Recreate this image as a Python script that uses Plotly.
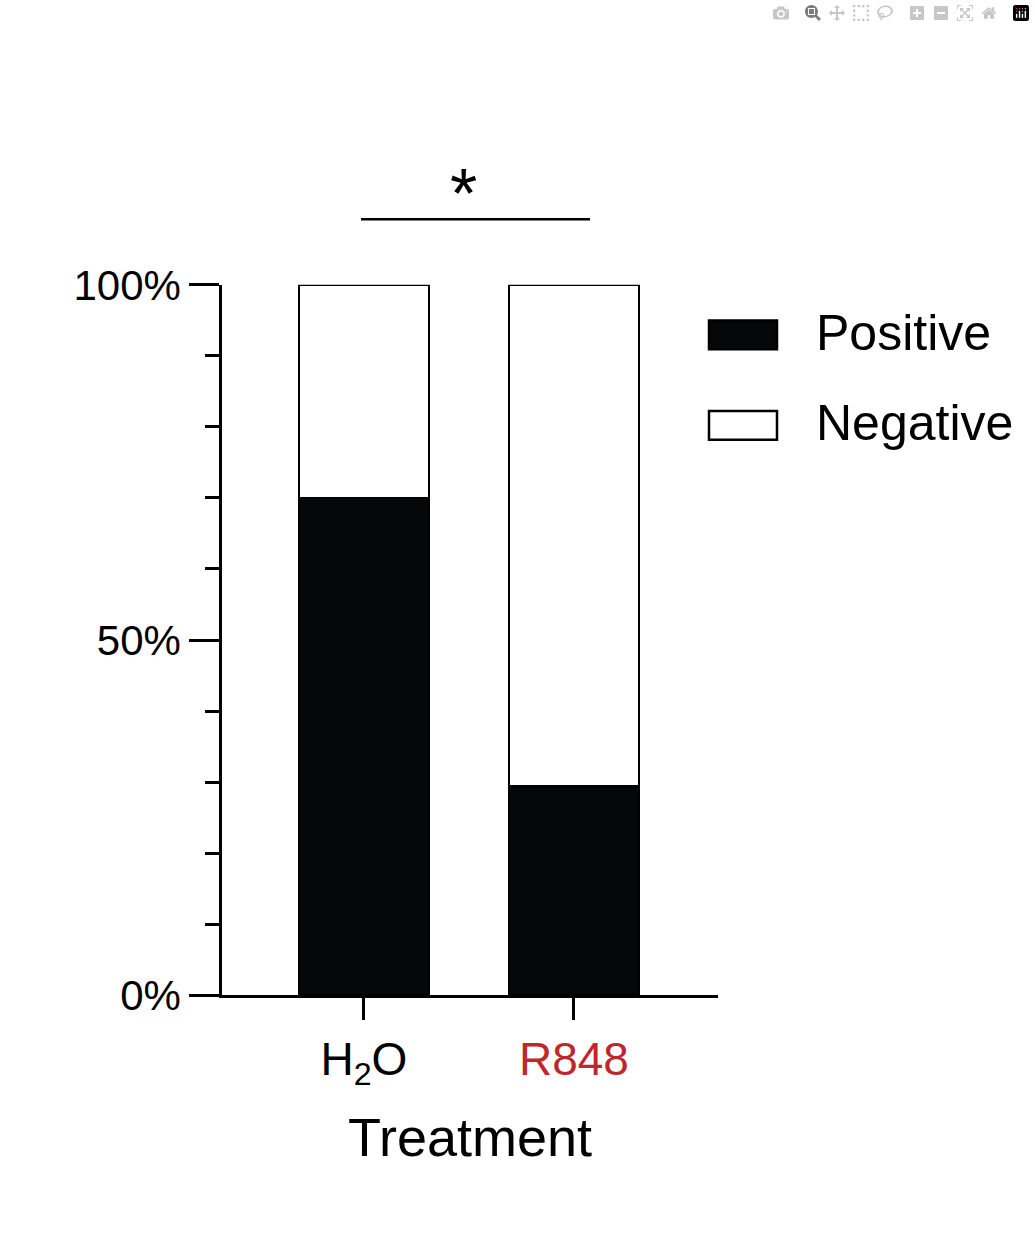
import plotly.graph_objects as go

categories = ["H2O", "R848"]
tick_labels = ["H<sub>2</sub>O", "<span style='color:#c0272d'>R848</span>"]
positive = [70.0, 29.4]
negative = [100 - p for p in positive]

W, H = 1035, 1257
def px(x): return x / W
def py(y): return 1 - y / H

fig = go.Figure()
fig.add_bar(x=[0, 1], y=positive, name="Positive", marker=dict(color="#060708", line=dict(color="black", width=2.5)), width=0.62)
fig.add_bar(x=[0, 1], y=negative, name="Negative", marker=dict(color="white", line=dict(color="black", width=2.5)), width=0.62)

font = "Liberation Sans, Arial, sans-serif"
fig.update_layout(
    width=W, height=H, barmode="stack", showlegend=False,
    margin=dict(l=0, r=0, t=0, b=0),
    plot_bgcolor="white", paper_bgcolor="white",
    font=dict(family=font, color="black", size=40),
    xaxis=dict(domain=[px(222), px(718)], range=[-0.676, 1.686], tickvals=[0, 1], ticktext=tick_labels,
               ticks="outside", ticklen=22, tickwidth=2.5, tickcolor="black", showline=True, linecolor="black",
               linewidth=2.5, tickfont=dict(size=46), showgrid=False, zeroline=False,
               title=dict(text="Treatment", font=dict(size=54), standoff=28)),
    yaxis=dict(domain=[py(1010), py(272)], range=[0, 100], tickvals=[0, 50, 100], ticktext=["0%", "50%", "100%"],
               ticks="outside", ticklen=30, tickwidth=2.5, tickcolor="black", showline=True, linecolor="black",
               linewidth=2.5, showgrid=False, zeroline=False, tickfont=dict(size=42),
               minor=dict(dtick=10, ticks="outside", ticklen=14, tickwidth=2.5, tickcolor="black", showgrid=False)),
)
fig.add_shape(type="line", xref="paper", yref="paper", x0=px(361), x1=px(590), y0=py(204), y1=py(204),
              line=dict(color="black", width=2.5))
fig.add_annotation(xref="paper", yref="paper", x=px(463), y=py(178), text="*", showarrow=False,
                   yanchor="middle", font=dict(size=70, family=font))
for i, (name, col) in enumerate([("Positive", "#060708"), ("Negative", "white")]):
    yc = 324 + i * 94
    fig.add_shape(type="rect", xref="paper", yref="paper", x0=px(709), x1=px(777), y0=py(yc - 15), y1=py(yc + 15),
                  fillcolor=col, line=dict(color="black", width=2.5))
    fig.add_annotation(xref="paper", yref="paper", x=px(814), y=py(yc - 2), text=name, showarrow=False,
                       xanchor="left", yanchor="middle", font=dict(size=50, family=font))
fig.write_html("out.html", post_script="document.body.style.margin='0';document.body.style.overflow='hidden';")
